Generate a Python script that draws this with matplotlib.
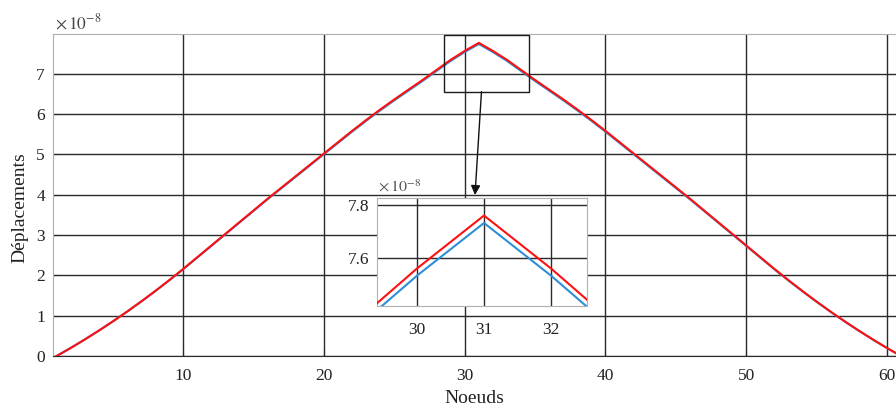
import matplotlib
matplotlib.use("Agg")
import matplotlib.pyplot as plt
from matplotlib.patches import Rectangle

plt.rcParams['font.family'] = ['Liberation Serif', 'DejaVu Serif']
plt.rcParams['mathtext.fontset'] = 'stix'

# Node numbers and nodal displacements (units of 1e-8)
noeuds = list(range(1, 62))
depl_rouge = [
    0.00, 0.20, 0.41, 0.63, 0.86, 1.10, 1.35, 1.61, 1.88, 2.16,
    2.45, 2.74, 3.03, 3.32, 3.61, 3.90, 4.18, 4.46, 4.74, 5.02,
    5.30, 5.58, 5.85, 6.11, 6.36, 6.60, 6.84, 7.09, 7.34, 7.56,
    7.76,
    7.56, 7.34, 7.09, 6.84, 6.60, 6.36, 6.11, 5.85, 5.58, 5.30,
    5.02, 4.74, 4.46, 4.18, 3.90, 3.61, 3.32, 3.03, 2.74, 2.45,
    2.16, 1.88, 1.61, 1.35, 1.10, 0.86, 0.63, 0.41, 0.20, 0.00,
]
depl_bleu = [
    0.000, 0.199, 0.409, 0.628, 0.857, 1.096, 1.345, 1.604, 1.873, 2.152,
    2.441, 2.730, 3.019, 3.308, 3.597, 3.886, 4.165, 4.444, 4.723, 5.002,
    5.281, 5.560, 5.829, 6.088, 6.337, 6.576, 6.815, 7.064, 7.314, 7.533,
    7.732,
    7.533, 7.314, 7.064, 6.815, 6.576, 6.337, 6.088, 5.829, 5.560, 5.281,
    5.002, 4.723, 4.444, 4.165, 3.886, 3.597, 3.308, 3.019, 2.730, 2.441,
    2.152, 1.873, 1.604, 1.345, 1.096, 0.857, 0.628, 0.409, 0.199, 0.000,
]
x_ticks = [10, 20, 30, 40, 50, 60]
y_ticks = [0, 1, 2, 3, 4, 5, 6, 7]
zoom_x_ticks = [30, 31, 32]
zoom_y_ticks = [7.6, 7.8]

W, H = 896, 409
fig = plt.figure(figsize=(W / 100, H / 100), dpi=100)

def fig_rect(x0, y0, x1, y1):
    return [x0 / W, 1 - y1 / H, (x1 - x0) / W, (y1 - y0) / H]

grid_kw = dict(color='#2a2a2a', linewidth=1.0)
frame_col = '#b0b0b0'
red = '#ff1010'
blue = '#2d8fd5'

ax = fig.add_axes(fig_rect(53.3, 34, 896, 356))
ax.plot(noeuds, depl_bleu, color=blue, linewidth=1.5, zorder=3)
ax.plot(noeuds, depl_rouge, color=red, linewidth=1.5, zorder=4)
ax.set_xlim(0.76, 60.65)
ax.set_ylim(0, 7.98)
ax.set_xticks(x_ticks)
ax.set_yticks(y_ticks)
ax.grid(True, **grid_kw)
ax.set_axisbelow(True)
for s in ['top', 'left']:
    ax.spines[s].set_color(frame_col)
ax.spines['right'].set_visible(False)
ax.spines['bottom'].set_color('#2a2a2a')
ax.tick_params(axis='both', direction='in', length=4, color='#2a2a2a',
               labelsize=12.5, labelcolor='#222222')
ax.tick_params(axis='x', pad=9)
ax.tick_params(axis='y', pad=6)
ax.set_xlabel('Noeuds', fontsize=14, color='#222222', labelpad=4)
fig.text(20 / W, 1 - 208 / H, 'Déplacements', rotation=90, fontsize=14,
         color='#222222', ha='center', va='center')
fig.text(55 / W, 1 - 29 / H, r'$\times\,10^{-8}$', fontsize=12.5,
         color='#444444', ha='left', va='baseline')

# zoom window on the peak and the arrow pointing to the detail view
ax.add_patch(Rectangle((28.5, 6.55), 6.05, 1.40, fill=False,
                       edgecolor='#1a1a1a', linewidth=1.0, zorder=5))
ax.annotate('', xy=(30.73, 3.99), xytext=(31.19, 6.55),
            arrowprops=dict(arrowstyle='-|>', color='#111111', lw=1.0,
                            mutation_scale=14, shrinkA=0, shrinkB=0),
            zorder=6)

ins = fig.add_axes(fig_rect(377.3, 198.3, 586.7, 305.7))
ins.set_facecolor('white')
ins.plot(noeuds, depl_bleu, color=blue, linewidth=1.5, zorder=3)
ins.plot(noeuds, depl_rouge, color=red, linewidth=1.5, zorder=4)
ins.set_xlim(29.41, 32.53)
ins.set_ylim(7.42, 7.825)
ins.set_xticks(zoom_x_ticks)
ins.set_yticks(zoom_y_ticks)
ins.set_yticklabels(['7.6', '7.8'])
ins.grid(True, **grid_kw)
ins.set_axisbelow(True)
for s in ins.spines.values():
    s.set_color(frame_col)
ins.tick_params(axis='both', direction='in', length=0,
                labelsize=12.5, labelcolor='#222222')
ins.tick_params(axis='x', pad=12)
ins.tick_params(axis='y', pad=6)
fig.text(378 / W, 1 - 192 / H, r'$\times\,10^{-8}$', fontsize=11.5,
         color='#555555', ha='left', va='baseline')

fig.savefig('out.png', dpi=100)
